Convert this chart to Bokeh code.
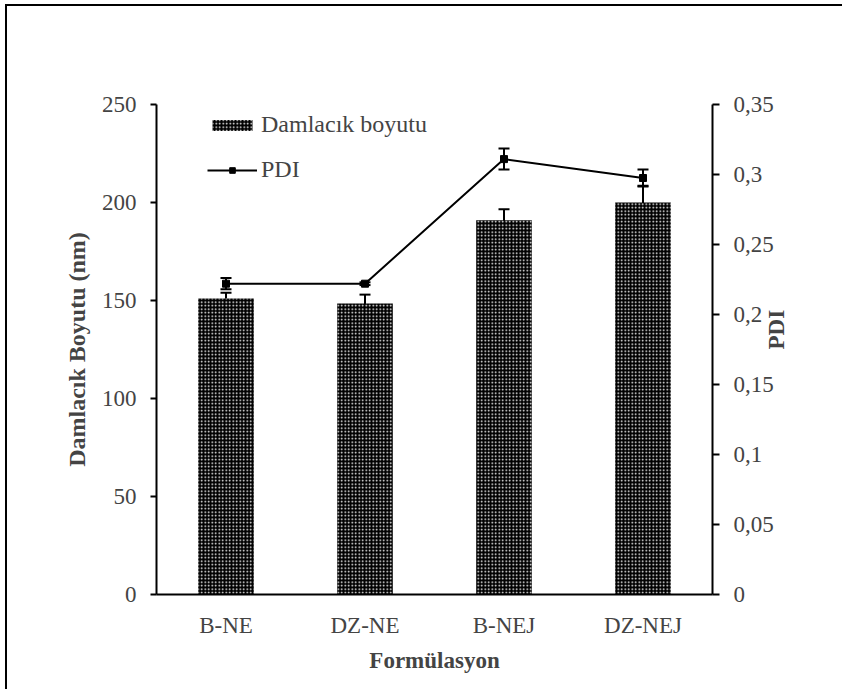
import math
from bokeh.plotting import figure
from bokeh.models import (ColumnDataSource, Range1d, LinearAxis, FixedTicker,
                          CustomJSTickFormatter, Whisker, TeeHead, Legend, LegendItem)
from bokeh.embed import file_html
from bokeh.resources import INLINE

# ---- data ----
categories = ["B-NE", "DZ-NE", "B-NEJ", "DZ-NEJ"]
droplet_size = [151, 148.5, 191, 200]
droplet_err = [3, 4.5, 5.5, 8.5]
pdi = [0.222, 0.222, 0.311, 0.2975]
pdi_err = [0.004, 0.001, 0.0075, 0.006]
left_ticks = [0, 50, 100, 150, 200, 250]
right_ticks = [0, 0.05, 0.1, 0.15, 0.2, 0.25, 0.3, 0.35]

FONT = "Liberation Serif"

bar_src = ColumnDataSource(dict(
    x=categories, top=droplet_size,
    upper=[v + e for v, e in zip(droplet_size, droplet_err)],
    lower=[v - e for v, e in zip(droplet_size, droplet_err)],
))
pdi_src = ColumnDataSource(dict(
    x=categories, y=pdi,
    upper=[v + e for v, e in zip(pdi, pdi_err)],
    lower=[v - e for v, e in zip(pdi, pdi_err)],
))

p = figure(x_range=categories, y_range=Range1d(0, 250),
           width=837, height=685, output_backend="svg", toolbar_location=None,
           min_border_left=149, min_border_right=132, min_border_top=98,
           min_border_bottom=97, margin=(4, 0, 0, 5))
p.styles = {"border-left": "2px solid black", "border-top": "2px solid black"}
p.extra_y_ranges = {"pdi": Range1d(0, 0.35)}

p.outline_line_color = None
p.xgrid.visible = False
p.ygrid.visible = False
p.background_fill_color = "white"
p.border_fill_color = "white"

bars = p.vbar(x="x", top="top", width=0.4, source=bar_src,
              fill_color="black", line_color=None,
              hatch_pattern="dot", hatch_color="white", hatch_scale=3.5, hatch_weight=1.2)

p.add_layout(Whisker(source=bar_src, base="x", upper="upper", lower="lower",
                     line_width=2, line_color="black",
                     upper_head=TeeHead(size=11, line_width=2, line_color="black"),
                     lower_head=TeeHead(size=11, line_width=2, line_color="black")))

line = p.line(x="x", y="y", source=pdi_src, y_range_name="pdi",
              line_color="black", line_width=2)
pts = p.scatter(x="x", y="y", source=pdi_src, y_range_name="pdi",
                marker="square", size=7, fill_color="black", line_color="black")
p.add_layout(Whisker(source=pdi_src, base="x", upper="upper", lower="lower",
                     y_range_name="pdi", line_width=2, line_color="black",
                     upper_head=TeeHead(size=11, line_width=2, line_color="black"),
                     lower_head=TeeHead(size=11, line_width=2, line_color="black")))

# left axis
ya = p.yaxis[0]
ya.ticker = FixedTicker(ticks=left_ticks)
ya.axis_label = "Damlacık Boyutu (nm)"
ya.axis_label_text_font = FONT
ya.axis_label_text_font_style = "bold"
ya.axis_label_text_font_size = "24px"
ya.axis_label_standoff = 9
ya.major_label_text_font = FONT
ya.major_label_text_font_size = "23px"
ya.major_label_standoff = 14
ya.major_tick_out = 6
ya.major_tick_in = 0
ya.minor_tick_out = 0
ya.minor_tick_in = 0
ya.axis_line_width = 2
ya.major_tick_line_width = 2

# right axis (ticks and labels)
ra = LinearAxis(y_range_name="pdi",
                ticker=FixedTicker(ticks=right_ticks),
                formatter=CustomJSTickFormatter(
                    code="return Number(tick.toFixed(2)).toString().replace('.', ',');"))
ra.major_label_text_font = FONT
ra.major_label_text_font_size = "23px"
ra.major_label_standoff = 14
ra.major_tick_out = 7
ra.major_tick_in = 0
ra.minor_tick_out = 0
ra.minor_tick_in = 0
ra.axis_line_width = 2
ra.major_tick_line_width = 2
p.add_layout(ra, "right")

# bare right axis that only carries the "PDI" title (read bottom to top)
ra2 = LinearAxis(y_range_name="pdi",
                 ticker=FixedTicker(ticks=[]),
                 formatter=CustomJSTickFormatter(code="return '';"))
ra2.axis_line_color = None
ra2.major_tick_line_color = None
ra2.minor_tick_line_color = None
ra2.major_tick_out = 0
ra2.major_tick_in = 0
ra2.minor_tick_out = 0
ra2.minor_tick_in = 0
ra2.major_label_standoff = 0
ra2.axis_label = "PDI"
ra2.axis_label_text_font = FONT
ra2.axis_label_text_font_style = "bold"
ra2.axis_label_text_font_size = "23px"
ra2.axis_label_standoff = 0
ra2.axis_label_orientation = math.pi / 2
p.add_layout(ra2, "right")

# x axis
xa = p.xaxis[0]
xa.axis_label = "Formülasyon"
xa.axis_label_text_font = FONT
xa.axis_label_text_font_style = "bold"
xa.axis_label_text_font_size = "23px"
xa.axis_label_standoff = 7
xa.major_label_text_font = FONT
xa.major_label_text_font_size = "23px"
xa.major_label_standoff = 18
xa.major_tick_out = 0
xa.major_tick_in = 0
xa.axis_line_width = 2

legend = Legend(items=[
    LegendItem(label="Damlacık boyutu", renderers=[bars]),
    LegendItem(label="PDI", renderers=[line, pts]),
], location=(51, 411))
legend.label_text_font = FONT
legend.label_text_font_size = "24px"
legend.glyph_width = 50
legend.glyph_height = 14
legend.label_height = 24
legend.spacing = 18
legend.padding = 0
legend.margin = 0
legend.label_standoff = 4
legend.border_line_color = None
legend.background_fill_alpha = 0
p.add_layout(legend)

open("out.html", "w").write(file_html(p, INLINE))
